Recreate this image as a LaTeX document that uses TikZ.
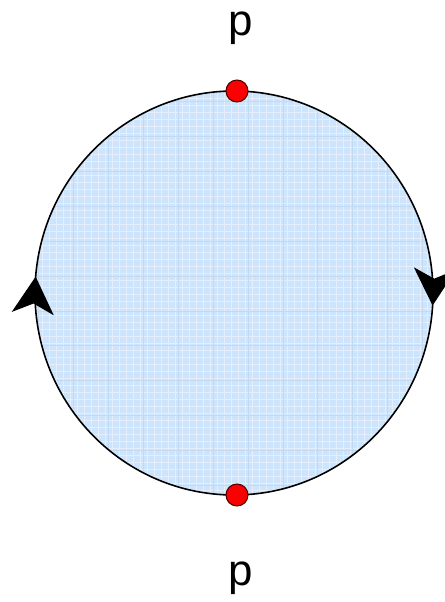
\documentclass[tikz,border=0pt]{standalone}
\usepackage{fontspec}
\setmainfont{Liberation Sans}
\usetikzlibrary{arrows.meta, decorations.markings}
\definecolor{diskblue}{RGB}{204,228,252}
\definecolor{gridblue}{RGB}{180,208,240}
\definecolor{dotred}{RGB}{250,0,0}

\begin{document}
\begin{tikzpicture}[
    x=0.02cm, y=-0.02cm,
    label/.style={font=\fontsize{25}{30}\selectfont, anchor=base, inner sep=0pt, text height=0.46cm, text depth=0.2cm},
    point/.style={circle, fill=dotred, draw=black!70!red, line width=0.6pt, minimum size=0.44cm, inner sep=0pt},
    orient/.style={postaction={decorate, decoration={markings,
        mark=at position 0.26 with {\arrow{Stealth[length=0.74cm, width=0.84cm, inset=0.2cm]}},
        mark=at position 0.763 with {\arrow{Stealth[length=0.74cm, width=0.84cm, inset=0.2cm]}}}}},
]
    \useasboundingbox (0,0) rectangle (444,602);

    % disk with grid
    \fill[diskblue] (234,293) ellipse [x radius=199, y radius=202];
    \begin{scope}
        \clip (234,293) ellipse [x radius=199, y radius=202];
        \draw[gridblue!35, line width=0.2pt, step=0.14cm] (0,0) grid (444,602);
        \draw[gridblue!80, line width=0.5pt, xshift=0.06cm, yshift=0.08cm, step=0.7cm] (0,0) grid (444,602);
    \end{scope}

    % boundary, clockwise
    \draw[line width=0.9pt, orient] (234,293) ++(0,-202)
        arc[start angle=-90, end angle=270, x radius=199, y radius=202];

    % points
    \node (top) [point] at (237,91) {};
    \node (bottom) [point] at (237,495) {};
    \node (ptop) [label] at (241,35) {p};
    \node (pbottom) [label] at (241,585) {p};

\end{tikzpicture}
\end{document}
